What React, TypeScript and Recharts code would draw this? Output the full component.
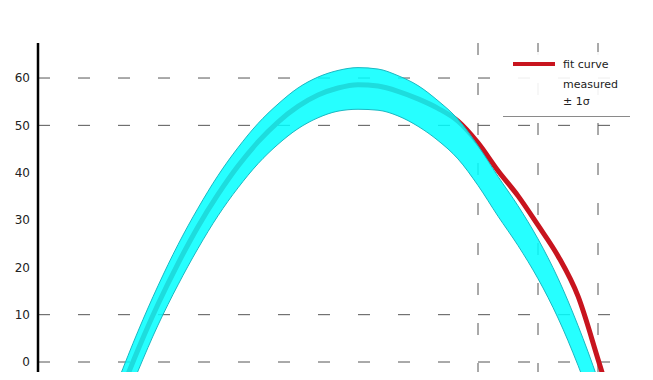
import {
    ComposedChart,
    Area,
    XAxis,
    YAxis,
    CartesianGrid,
} from "recharts";

// sample positions along the x axis
const xs = [3, 4, 5, 6, 7, 8, 9, 10, 11, 12, 13, 14, 15, 16, 17, 18, 19, 20, 21, 22, 23, 24, 25, 26, 27, 27.5];

// spread of the measurements (lower / upper edge)
const bandLow = [-12.4, -1.9, 7.8, 16.3, 24.0, 30.9, 36.8, 41.9, 46.0, 49.3, 51.6, 53.0, 53.4, 53.2, 52.0, 49.8, 46.8, 42.9, 37.3, 30.8, 24.6, 17.6, 9.3, -0.7, -12.2, -18.7];
const bandHigh = [-4.0, 6.5, 16.1, 24.8, 32.5, 39.4, 45.3, 50.4, 54.5, 57.9, 60.2, 61.6, 62.2, 61.9, 60.5, 58.4, 55.2, 51.3, 45.7, 39.2, 33.0, 26.0, 17.7, 7.7, -3.8, -10.3];

// fitted curve
const fit = [-7.9, 2.6, 12.2, 20.8, 28.6, 35.4, 41.4, 46.5, 50.7, 54.0, 56.4, 57.9, 58.6, 58.3, 57.2, 55.6, 53.6, 50.9, 46.3, 40.4, 35.1, 28.9, 22.4, 13.9, 0.6, -6.3];

const yTicks = [0, 10, 20, 30, 40, 50, 60];
const gridY = [0, 10, 50, 60];
const gridX = [21, 24, 27];

const legendRows = ["fit curve", "measured", "± 1σ"];

const data = xs.map((x, i) => ({
    x,
    fit: fit[i],
    band: [bandLow[i], bandHigh[i]],
}));

function FitLegend() {
    return (
        <div
            style={{
                position: "absolute",
                top: 44,
                left: 495,
                width: 127,
                paddingBottom: 6,
                borderBottom: "1px solid #8a8a8a",
                fontFamily: "DejaVu Sans, sans-serif",
                fontSize: 11,
                color: "#222",
                background: "rgba(255,255,255,0.9)",
            }}
        >
            {legendRows.map((row, i) => (
                <div
                    key={row}
                    style={{
                        display: "flex",
                        alignItems: "center",
                        height: i === 0 ? 24 : 17,
                    }}
                >
                    <span
                        style={{
                            display: "inline-block",
                            width: 42,
                            height: 4,
                            marginLeft: 10,
                            marginRight: 8,
                            background: i === 0 ? "#c8141e" : "transparent",
                        }}
                    />
                    {row}
                </div>
            ))}
        </div>
    );
}

export default function App() {
    return (
        <div
            style={{
                position: "relative",
                width: 637,
                height: 372,
                overflow: "hidden",
                marginBottom: -8,
            }}
        >
            <ComposedChart
                width={637}
                height={460}
                data={data}
                margin={{ top: 35, right: 7, bottom: 35, left: 0 }}
            >
                <CartesianGrid
                    stroke="#555"
                    strokeDasharray="12 28"
                    horizontalValues={gridY}
                    verticalValues={gridX}
                />
                <XAxis dataKey="x" type="number" domain={[-1, 29]} allowDataOverflow hide />
                <YAxis
                    type="number"
                    domain={[-15, 67.4]}
                    ticks={yTicks}
                    allowDataOverflow
                    width={30}
                    tickLine={false}
                    axisLine={{ stroke: "#000", strokeWidth: 2.5 }}
                    tick={{ fontSize: 12, fill: "#222", fontFamily: "DejaVu Sans, sans-serif" }}
                />
                {/* fit drawn first so the band sits over it */}
                <Area
                    dataKey="fit"
                    type="monotone"
                    fill="none"
                    stroke="#c8141e"
                    strokeWidth={5}
                    isAnimationActive={false}
                />
                <Area
                    dataKey="band"
                    type="monotone"
                    fill="#00ffff"
                    fillOpacity={0.85}
                    stroke="#1bb8c2"
                    strokeWidth={1}
                    isAnimationActive={false}
                />
            </ComposedChart>
            <FitLegend />
        </div>
    );
}
